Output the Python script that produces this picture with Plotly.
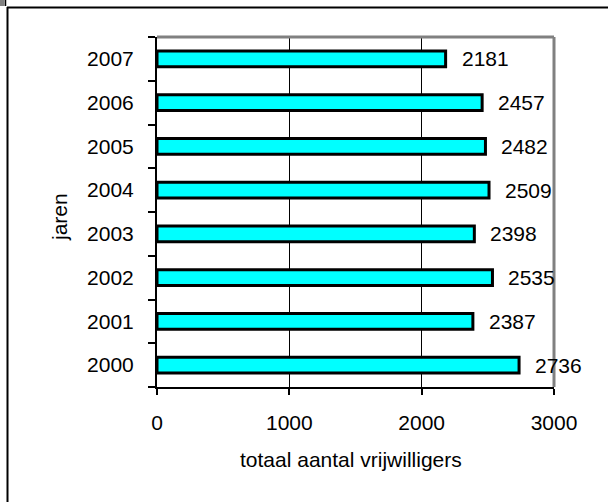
import plotly.graph_objects as go

years = ["2000", "2001", "2002", "2003", "2004", "2005", "2006", "2007"]
volunteers = [2736, 2387, 2535, 2398, 2509, 2482, 2457, 2181]
x_ticks = [0, 1000, 2000, 3000]
x_title = "totaal aantal vrijwilligers"
y_title = "jaren"

W, H = 608, 502
L, R, T, B = 157, 54, 37, 115
PW, PH = W - L - R, H - T - B

def px(x):
    return (x - L) / PW

def py(y):
    return (H - B - y) / PH

FONT = "Liberation Sans, Arial, sans-serif"
FS = 21

fig = go.Figure()
fig.add_trace(go.Bar(
    x=volunteers, y=years, orientation="h",
    marker=dict(color="#00FFFF", line=dict(color="black", width=3)),
    hoverinfo="skip",
))

annotations = []
for i, v in enumerate(volunteers):
    annotations.append(dict(x=v, y=i, xref="x", yref="y", text=str(v),
                            xanchor="left", yanchor="middle", xshift=14,
                            showarrow=False, font=dict(size=FS, color="black", family=FONT)))
annotations.append(dict(x=px(351), y=py(459), xref="paper", yref="paper", text=x_title,
                        xanchor="center", yanchor="middle", showarrow=False,
                        font=dict(size=FS, color="black", family=FONT)))
annotations.append(dict(x=px(60), y=py(217), xref="paper", yref="paper", text=y_title,
                        xanchor="center", yanchor="middle", showarrow=False, textangle=-90,
                        font=dict(size=FS, color="black", family=FONT)))

shapes = [
    dict(type="line", xref="paper", yref="paper", x0=0, x1=1, y0=1, y1=1,
         line=dict(color="#808080", width=3), layer="above"),
    dict(type="line", xref="paper", yref="paper", x0=1, x1=1, y0=0, y1=1,
         line=dict(color="#808080", width=3), layer="above"),
    dict(type="line", xref="paper", yref="paper", x0=px(7), x1=px(608), y0=py(7.5), y1=py(7.5),
         line=dict(color="black", width=2)),
    dict(type="line", xref="paper", yref="paper", x0=px(7.5), x1=px(7.5), y0=py(7), y1=py(502),
         line=dict(color="black", width=2)),
    dict(type="rect", xref="paper", yref="paper", x0=px(0), x1=px(4.5), y0=py(0), y1=py(6),
         fillcolor="#808080", line=dict(width=0)),
    dict(type="line", xref="paper", yref="paper", x0=px(5.5), x1=px(5.5), y0=py(0), y1=py(6),
         line=dict(color="black", width=1.5)),
]

fig.update_layout(
    width=W, height=H,
    margin=dict(l=L, r=R, t=T, b=B, pad=0, autoexpand=False),
    paper_bgcolor="white", plot_bgcolor="white",
    showlegend=False,
    bargap=0.64,
    font=dict(family=FONT, size=FS, color="black"),
    annotations=annotations,
    shapes=shapes,
    xaxis=dict(range=[0, 3000], tickvals=x_ticks, ticktext=[str(t) for t in x_ticks],
               showgrid=True, gridcolor="black", gridwidth=1, zeroline=False,
               showline=True, linecolor="black", linewidth=2,
               ticks="outside", ticklen=6, tickwidth=2, tickcolor="black",
               ticklabelstandoff=10, fixedrange=True),
    yaxis=dict(type="category", categoryorder="array", categoryarray=years,
               range=[-0.5, len(years) - 0.5],
               showgrid=False, zeroline=False,
               showline=True, linecolor="black", linewidth=2,
               ticks="outside", ticklen=7, tickwidth=2, tickcolor="black",
               tickson="boundaries", ticklabelstandoff=17, fixedrange=True),
)

fig.write_html("out.html", config={"displayModeBar": False},
               post_script="document.body.style.margin='0';document.body.style.overflow='hidden';")
